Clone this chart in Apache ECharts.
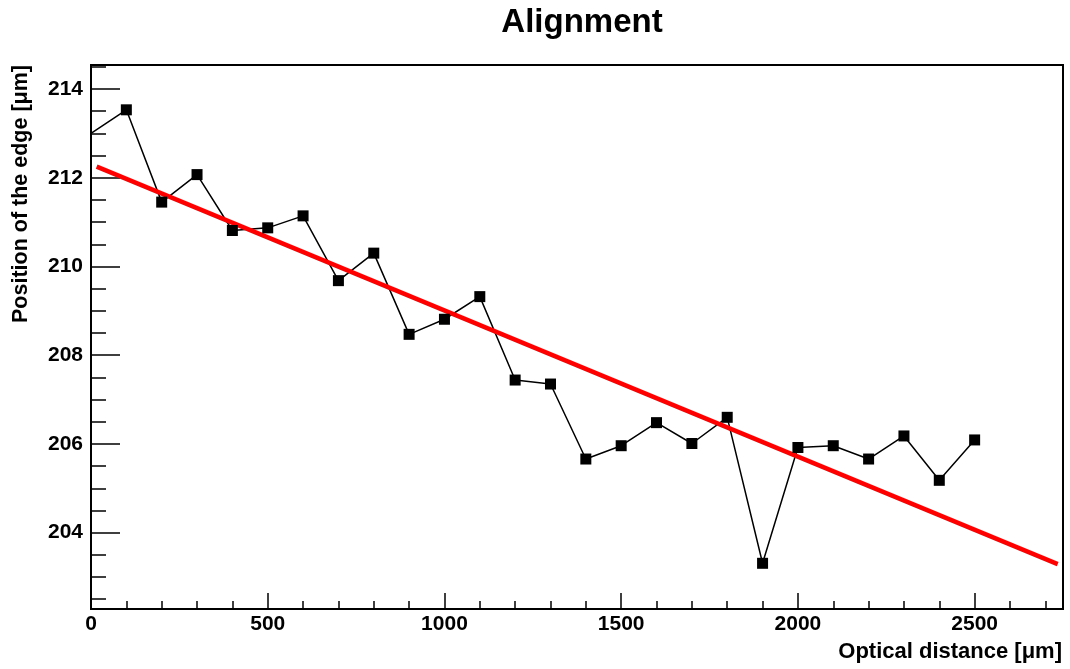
<!DOCTYPE html>
<html>
<head>
<meta charset="utf-8">
<script src="https://cdn.jsdelivr.net/npm/echarts@6/dist/echarts.min.js"></script>
<style>
  html, body { margin: 0; padding: 0; background: #fff; }
  #main { width: 1070px; height: 669px; }
</style>
</head>
<body>
<div id="main"></div>
<script>
// measured points (optical distance in um, edge position in um)
var distance = [0, 100, 200, 300, 400, 500, 600, 700, 800, 900, 1000, 1100, 1200,
  1300, 1400, 1500, 1600, 1700, 1800, 1900, 2000, 2100, 2200, 2300, 2400, 2500];
var edge = [213.0, 213.53, 211.45, 212.07, 210.81, 210.87, 211.14, 209.68, 210.30,
  208.47, 208.81, 209.32, 207.44, 207.35, 205.66, 205.96, 206.48, 206.01, 206.60,
  203.31, 205.92, 205.96, 205.66, 206.18, 205.18, 206.09];

// linear fit, end points
var fitX = [16, 2735];
var fitY = [212.25, 203.29];

// tick positions
var xMajor = [0, 500, 1000, 1500, 2000, 2500];
var xMinor = [100, 200, 300, 400, 600, 700, 800, 900, 1100, 1200, 1300, 1400,
  1600, 1700, 1800, 1900, 2100, 2200, 2300, 2400, 2600, 2700];
var yMajor = [204, 206, 208, 210, 212, 214];
var yMinor = [202.5, 203, 203.5, 204.5, 205, 205.5, 206.5, 207, 207.5, 208.5, 209,
  209.5, 210.5, 211, 211.5, 212.5, 213, 213.5, 214.5];

var font = 'Liberation Sans, Arial, Helvetica, sans-serif';

var chart = echarts.init(document.getElementById('main'));

var pts = distance.map(function (d, i) {
  // first point sits on the frame edge, ROOT draws no marker there
  return i === 0 ? { value: [d, edge[i]], symbolSize: 0 } : [d, edge[i]];
});
var fit = fitX.map(function (x, i) { return [x, fitY[i]]; });

function plain(v) { return String(v); }

function xAx(ticks, len, labels) {
  return {
    type: 'value', min: 0, max: 2750, position: 'bottom',
    axisLine: { show: false },
    splitLine: { show: false },
    axisTick: { inside: true, length: len, customValues: ticks,
      lineStyle: { color: '#000', width: 1.5 } },
    axisLabel: labels ? { customValues: ticks, margin: 5, color: '#000', formatter: plain,
      fontFamily: font, fontWeight: 'bold', fontSize: 21 } : { show: false }
  };
}
function yAx(ticks, len, labels) {
  return {
    type: 'value', min: 202.28, max: 214.54, position: 'left',
    axisLine: { show: false },
    splitLine: { show: false },
    axisTick: { inside: true, length: len, customValues: ticks,
      lineStyle: { color: '#000', width: 1.5 } },
    axisLabel: labels ? { customValues: ticks, margin: 8, color: '#000', formatter: plain,
      fontFamily: font, fontWeight: 'bold', fontSize: 21 } : { show: false }
  };
}

var option = {
  animation: false,
  backgroundColor: '#fff',
  title: {
    text: 'Alignment',
    left: 577, top: 1, textAlign: 'center',
    textStyle: { fontFamily: font, fontWeight: 'bold', fontSize: 33, color: '#000' }
  },
  grid: {
    left: 91, right: 7, top: 65, bottom: 60,
    show: true, borderColor: '#000', borderWidth: 2, backgroundColor: 'transparent'
  },
  xAxis: [xAx(xMajor, 16, true), xAx(xMinor, 8, false)],
  yAxis: [yAx(yMajor, 29, true), yAx(yMinor, 15, false)],
  graphic: [
    {
      type: 'text', x: 1062, y: 652,
      style: { text: 'Optical distance [\u03bcm]', align: 'right', verticalAlign: 'middle',
        fontFamily: font, fontWeight: 'bold', fontSize: 22, fill: '#000' }
    },
    {
      type: 'text', x: 21, y: 65, rotation: Math.PI / 2,
      style: { text: 'Position of the edge [\u03bcm]', align: 'right', verticalAlign: 'middle',
        fontFamily: font, fontWeight: 'bold', fontSize: 21.5, fill: '#000' }
    }
  ],
  series: [
    {
      type: 'line', data: pts, xAxisIndex: 0, yAxisIndex: 0,
      symbol: 'rect', symbolSize: 11,
      lineStyle: { color: '#000', width: 1.5 },
      itemStyle: { color: '#000' }
    },
    {
      type: 'line', data: fit, xAxisIndex: 0, yAxisIndex: 0,
      symbol: 'none',
      lineStyle: { color: '#ff0000', width: 4.5 }
    }
  ]
};
chart.setOption(option);
</script>
</body>
</html>
